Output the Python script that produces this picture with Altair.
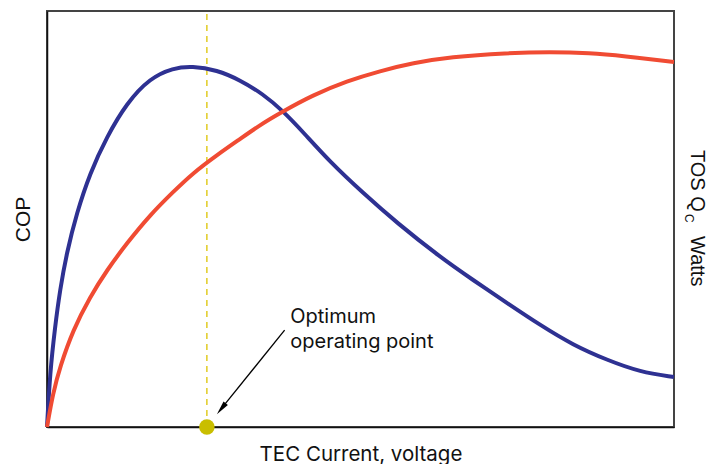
import altair as alt
import pandas as pd

# COP curve (blue), x = TEC current (0-100 relative), y = relative value (0-100)
blue_x = [0, 0.48, 1.28, 2.07, 3.14, 4.74, 6.86, 9.52, 12.71, 16.43, 20.10, 23.13, 27.11,
          30.78, 34.45, 37.64, 40.83, 45.14, 50.40, 55.82, 62.68, 67.94, 73.37, 78.63,
          83.89, 89.31, 94.58, 100]
blue_y = [0, 12.98, 24.04, 32.93, 41.83, 51.44, 61.06, 69.71, 77.88, 83.89, 86.30, 86.78, 85.82,
          83.41, 80.05, 75.96, 70.91, 63.70, 56.25, 49.04, 40.87, 35.34, 29.81, 24.52,
          19.71, 16.11, 13.22, 12.02]

# TOS Qc Watts curve (red)
red_x = [0, 0.96, 2.07, 4.15, 6.86, 9.57, 12.76, 16.43, 20.10, 23.29, 27.11, 30.78, 33.97,
         37.16, 42.42, 47.85, 53.11, 58.37, 64.27, 73.37, 80.22, 86.60, 91.87, 100]
red_y = [0, 8.17, 14.42, 23.32, 31.25, 37.74, 44.23, 50.96, 56.49, 61.06, 65.38, 69.23, 72.60,
         75.48, 79.81, 83.17, 85.58, 87.50, 88.94, 89.90, 90.14, 89.90, 89.18, 87.74]

optimum_x = [25.5]
optimum_y = [0]

note_lines = ["Optimum", "operating point"]
note_x = [38.8, 38.8]
note_y = [25.0, 19.0]

arrow_start = [37.9, 23.3]
arrow_head = [27.8, 4.4]

right_title = ["TOS Q", "C", "Watts"]
right_title_x = [102.7, 101.7, 102.7]
right_title_y = [66.6, 51.2, 45.9]

blue_df = pd.DataFrame({"x": blue_x, "y": blue_y})
red_df = pd.DataFrame({"x": red_x, "y": red_y})
opt_df = pd.DataFrame({"x": optimum_x, "y": optimum_y, "y2": [100]})
note_df = pd.DataFrame({"x": note_x, "y": note_y, "t": note_lines})
arrow_df = pd.DataFrame({"x": [arrow_start[0]], "y": [arrow_start[1]],
                         "x2": [arrow_head[0]], "y2": [arrow_head[1]]})
head_df = pd.DataFrame({"x": [arrow_head[0]], "y": [arrow_head[1]]})

xs = alt.Scale(domain=[0, 100], nice=False, zero=False)
ys = alt.Scale(domain=[0, 100], nice=False, zero=False)

TITLE_FONT = "Inter"
LABEL_FONT = "Liberation Sans"

x_axis = alt.Axis(title="TEC Current, voltage", labels=False, ticks=False, grid=False,
                  domain=True, domainColor="#111111", domainWidth=1.5,
                  titleFont=TITLE_FONT, titleFontSize=20.5, titleFontWeight="normal",
                  titleColor="#111111", titleBaseline="alphabetic", titleY=33)
y_axis = alt.Axis(title="COP", labels=False, ticks=False, grid=False,
                  domain=True, domainColor="#111111", domainWidth=1.5,
                  titleFont=LABEL_FONT, titleFontSize=21, titleFontWeight="normal",
                  titleColor="#111111", titleAngle=270, titleAlign="center",
                  titleBaseline="alphabetic", titleX=-18, titleY=208)

X = alt.X("x:Q", scale=xs, axis=x_axis, title="TEC Current, voltage")
Y = alt.Y("y:Q", scale=ys, axis=y_axis, title="COP")

dash = alt.Chart(opt_df).mark_rule(color="#dcc400", strokeWidth=1.3, strokeDash=[6, 5]).encode(
    x=X, y=Y, y2="y2:Q",
)

blue = alt.Chart(blue_df).mark_line(color="#2e3192", strokeWidth=4, interpolate="basis").encode(
    x=X, y=Y
)
red = alt.Chart(red_df).mark_line(color="#f04b33", strokeWidth=4, interpolate="basis").encode(
    x=X, y=Y
)

dot = alt.Chart(opt_df).mark_point(filled=True, color="#c9be00", size=240, opacity=1, clip=False).encode(
    x=X, y=Y
)

arrow_line = alt.Chart(arrow_df).mark_rule(color="black", strokeWidth=1.3).encode(
    x=X, y=Y, x2="x2:Q", y2="y2:Q",
)
arrow_tip = alt.Chart(head_df).mark_point(
    shape="M0,-1L0.4,1L-0.4,1Z", filled=True, color="black", size=196, angle=219, opacity=1
).encode(x=X, y=Y)

note = alt.Chart(note_df).mark_text(align="left", baseline="alphabetic", font=TITLE_FONT,
                                    fontSize=20, color="#111111").encode(
    x=X, y=Y, text="t:N"
)

rt_layers = []
for i, (txt, size) in enumerate(zip(right_title, [20, 12, 20])):
    d = pd.DataFrame({"x": [right_title_x[i]], "y": [right_title_y[i]], "t": [txt]})
    rt_layers.append(
        alt.Chart(d).mark_text(align="left", baseline="alphabetic", angle=90, font=LABEL_FONT,
                               fontSize=size, color="#111111", clip=False).encode(
            x=X, y=Y, text="t:N"
        )
    )

chart = alt.layer(dash, blue, red, arrow_line, arrow_tip, dot, note, *rt_layers).properties(
    width=627, height=416,
    padding={"left": 39, "top": 3, "right": 41, "bottom": 37},
    autosize=alt.AutoSizeParams(type="none"),
    background="white",
).configure_view(stroke="#444444", strokeWidth=2)

chart.save("out.html", embed_options={"renderer": "svg", "actions": False})
